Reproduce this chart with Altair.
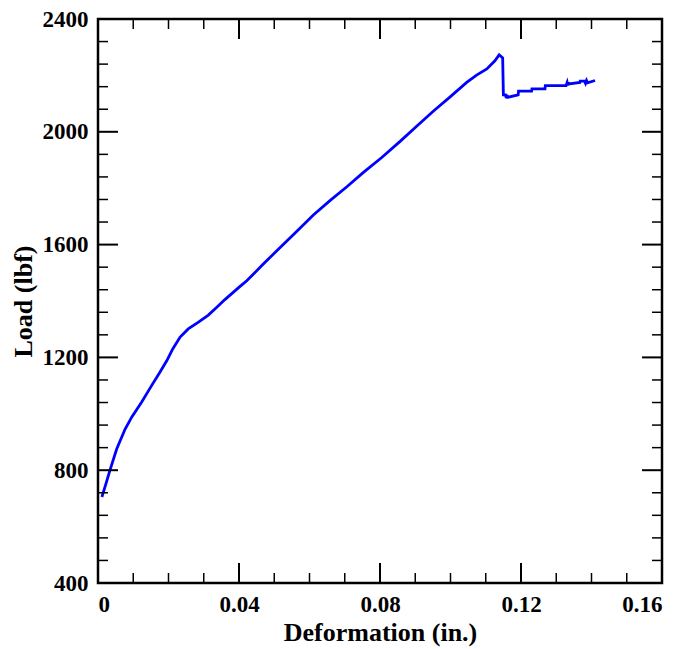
import altair as alt
import pandas as pd

# Load-deformation curve
deformation = [0.0011, 0.0022, 0.0034, 0.0053, 0.0077, 0.0096, 0.0124, 0.0152, 0.0176,
               0.0195, 0.0212, 0.0233, 0.0256, 0.0285, 0.0313, 0.0337, 0.0360, 0.0403,
               0.0422, 0.0469, 0.0516, 0.0554, 0.0611, 0.0658, 0.0706, 0.0753, 0.0805,
               0.0857, 0.0904, 0.0951, 0.0999, 0.1046, 0.1074, 0.1103, 0.1126, 0.1138,
               0.1148, 0.1150, 0.1156, 0.1158, 0.1160, 0.1162, 0.1192, 0.1193, 0.1230,
               0.1231, 0.1268, 0.1269, 0.1328, 0.1331, 0.1333, 0.1335, 0.1336, 0.1367,
               0.1368, 0.1380, 0.1383, 0.1386, 0.1389, 0.1410]
load = [705, 750, 800, 875, 946, 989, 1042, 1100, 1148,
        1188, 1230, 1272, 1301, 1325, 1350, 1378, 1405, 1452,
        1472, 1531, 1589, 1635, 1705, 1756, 1805, 1856, 1909,
        1966, 2020, 2073, 2124, 2175, 2201, 2223, 2252, 2273,
        2262, 2131, 2131, 2120, 2131, 2122, 2131, 2144, 2144,
        2152, 2152, 2164, 2164, 2175, 2164, 2175, 2170, 2175,
        2180, 2180, 2172, 2182, 2174, 2182]

x_major = [0, 0.04, 0.08, 0.12, 0.16]
x_minor = [0.01, 0.02, 0.03, 0.05, 0.06, 0.07, 0.09, 0.10, 0.11, 0.13, 0.14, 0.15]
y_major = [400, 800, 1200, 1600, 2000, 2400]
y_minor = [480, 560, 640, 720, 880, 960, 1040, 1120, 1280, 1360, 1440, 1520,
           1680, 1760, 1840, 1920, 2080, 2160, 2240, 2320]

W, H = 564, 564
FONT = "Liberation Serif"
MAJ, MIN = 20, 10

df = pd.DataFrame({"d": deformation, "l": load, "i": range(len(load))})
xs = alt.Scale(domain=[0, 0.16], nice=False, zero=False)
ys = alt.Scale(domain=[400, 2400], nice=False, zero=False)

x_axis = alt.Axis(values=x_major, tickSize=0, domain=False, grid=False,
                  labelExpr="datum.value == 0 ? '0' : format(datum.value, '.2f')",
                  labelFont=FONT, labelFontSize=23, labelFontWeight="bold",
                  labelColor="black", labelPadding=10,
                  titleFont=FONT, titleFontSize=26, titleFontWeight="bold",
                  titleColor="black", titlePadding=3)
y_axis = alt.Axis(values=y_major, tickSize=0, domain=False, grid=False,
                  format="d",
                  labelFont=FONT, labelFontSize=23, labelFontWeight="bold",
                  labelColor="black", labelPadding=10,
                  titleFont=FONT, titleFontSize=26, titleFontWeight="bold",
                  titleColor="black", titlePadding=6)
XT = "Deformation (in.)"
YT = "Load (lbf)"

line = alt.Chart(df).mark_line(color="#0000FF", strokeWidth=2.8).encode(
    x=alt.X("d:Q", scale=xs, title=XT, axis=x_axis),
    y=alt.Y("l:Q", scale=ys, title=YT, axis=y_axis),
    order="i:Q",
)

def xticks(vals, length, sw):
    src = alt.Chart(pd.DataFrame({"v": vals}))
    enc_x = alt.X("v:Q", scale=xs, title=XT, axis=x_axis)
    bottom = src.mark_rule(color="black", strokeWidth=sw).encode(
        x=enc_x, y=alt.value(H), y2=alt.value(H - length))
    top = src.mark_rule(color="black", strokeWidth=sw).encode(
        x=enc_x, y=alt.value(0), y2=alt.value(length))
    return [bottom, top]

def yticks(vals, length, sw):
    src = alt.Chart(pd.DataFrame({"v": vals}))
    enc_y = alt.Y("v:Q", scale=ys, title=YT, axis=y_axis)
    left = src.mark_rule(color="black", strokeWidth=sw).encode(
        y=enc_y, x=alt.value(0), x2=alt.value(length))
    right = src.mark_rule(color="black", strokeWidth=sw).encode(
        y=enc_y, x=alt.value(W), x2=alt.value(W - length))
    return [left, right]

layers = ([line] + xticks(x_major, MAJ, 2) + xticks(x_minor, MIN, 1.5)
          + yticks(y_major, MAJ, 2) + yticks(y_minor, MIN, 1.5))

chart = alt.layer(*layers).properties(
    width=W, height=H,
    autosize=alt.AutoSizeParams(type="none"),
    padding={"left": 98, "top": 19, "right": 24, "bottom": 66},
).configure_view(stroke="black", strokeWidth=2.5)

chart.save("out.html", embed_options={"renderer": "svg", "actions": False})
